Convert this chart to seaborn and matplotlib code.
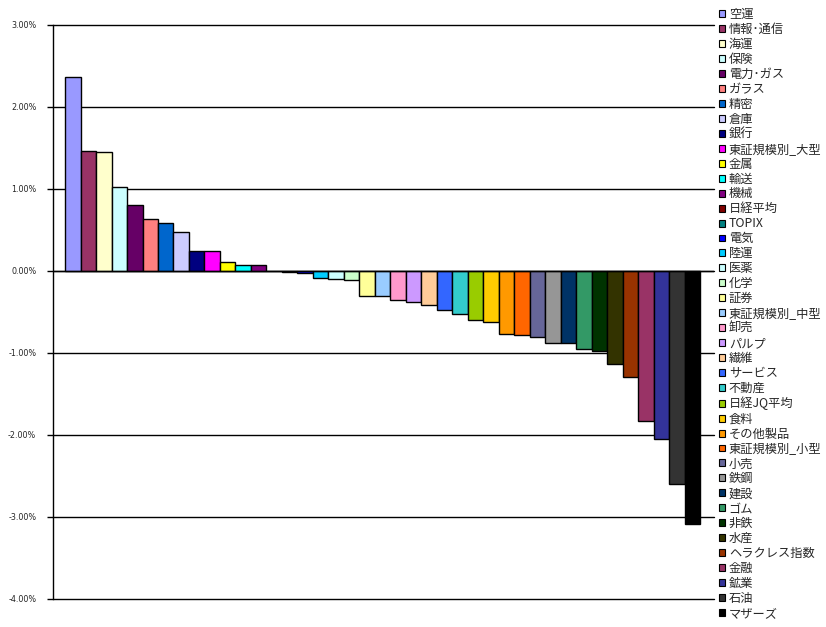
import matplotlib
matplotlib.use("Agg")
import matplotlib.pyplot as plt
import seaborn as sns
import pandas as pd
from matplotlib.patches import Patch
from matplotlib.ticker import FuncFormatter

sectors = ["空運", "情報･通信", "海運", "保険", "電力･ガス", "ガラス", "精密", "倉庫", "銀行",
           "東証規模別_大型", "金属", "輸送", "機械", "日経平均", "TOPIX", "電気", "陸運", "医薬",
           "化学", "証券", "東証規模別_中型", "卸売", "パルプ", "繊維", "サービス", "不動産",
           "日経JQ平均", "食料", "その他製品", "東証規模別_小型", "小売", "鉄鋼", "建設", "ゴム",
           "非鉄", "水産", "ヘラクレス指数", "金融", "鉱業", "石油", "マザーズ"]
changes = [2.36, 1.46, 1.45, 1.02, 0.81, 0.63, 0.59, 0.48, 0.25,
           0.24, 0.11, 0.07, 0.07, 0.005, -0.015, -0.03, -0.09, -0.10,
           -0.11, -0.30, -0.31, -0.35, -0.38, -0.41, -0.47, -0.52,
           -0.60, -0.62, -0.77, -0.78, -0.81, -0.88, -0.88, -0.955,
           -0.97, -1.13, -1.29, -1.83, -2.05, -2.60, -3.09]
colors = ["#9999FF", "#993366", "#FFFFCC", "#CCFFFF", "#660066", "#FF8080", "#0066CC", "#CCCCFF",
          "#000080", "#FF00FF", "#FFFF00", "#00FFFF", "#800080", "#800000", "#008080", "#0000FF",
          "#00CCFF", "#CCFFFF", "#CCFFCC", "#FFFF99", "#99CCFF", "#FF99CC", "#CC99FF", "#FFCC99",
          "#3366FF", "#33CCCC", "#99CC00", "#FFCC00", "#FF9900", "#FF6600", "#666699", "#969696",
          "#003366", "#339966", "#003300", "#333300", "#993300", "#993366", "#333399", "#333333",
          "#000000"]
yticks = [3, 2, 1, 0, -1, -2, -3, -4]

df = pd.DataFrame({"sector": sectors, "change": changes})

sns.set_style("white")
plt.rcParams['font.family'] = ['Noto Sans CJK JP', 'DejaVu Sans']

fig = plt.figure(figsize=(8.26, 6.27), dpi=100)
ax = fig.add_axes([53 / 826, 1 - 599 / 627, (714 - 53) / 826, (599 - 25) / 627])

sns.barplot(data=df, x="sector", y="change", hue="sector", palette=colors, saturation=1,
            width=1.0, edgecolor="black", linewidth=1.0, legend=False, ax=ax, zorder=3)

ax.set_xlim(-0.5 - 0.78, len(sectors) - 0.5 + 0.9)
ax.set_ylim(-4, 3)
ax.set_yticks(yticks)
ax.yaxis.set_major_formatter(FuncFormatter(lambda v, p: f"{v:.2f}%"))
ax.set_xticks([])
ax.set_xlabel("")
ax.set_ylabel("")
for t in ax.get_yticklabels():
    t.set_fontfamily("DejaVu Sans")
    t.set_fontsize(5.8)
ax.tick_params(axis="y", direction="out", length=4, width=1, color="black", pad=8)
ax.tick_params(axis="y", left=True)

for v in yticks:
    ax.axhline(v, color="black", linewidth=1.0, zorder=1, clip_on=False)
ax.axhline(0, color="black", linewidth=1.0, zorder=4)

for s in ["top", "right", "bottom"]:
    ax.spines[s].set_visible(False)
ax.spines["left"].set_color("black")
ax.spines["left"].set_linewidth(1.0)

handles = [Patch(facecolor=c, edgecolor="black", linewidth=0.8) for c in colors]
fig.legend(handles, sectors, loc="upper left", bbox_to_anchor=(719 / 826, 1 - 8 / 627),
           frameon=False, fontsize=8.8, handlelength=0.5, handleheight=0.5,
           handletextpad=0.3, labelspacing=0.16, borderaxespad=0, borderpad=0)

fig.savefig("out.png", dpi=100)
